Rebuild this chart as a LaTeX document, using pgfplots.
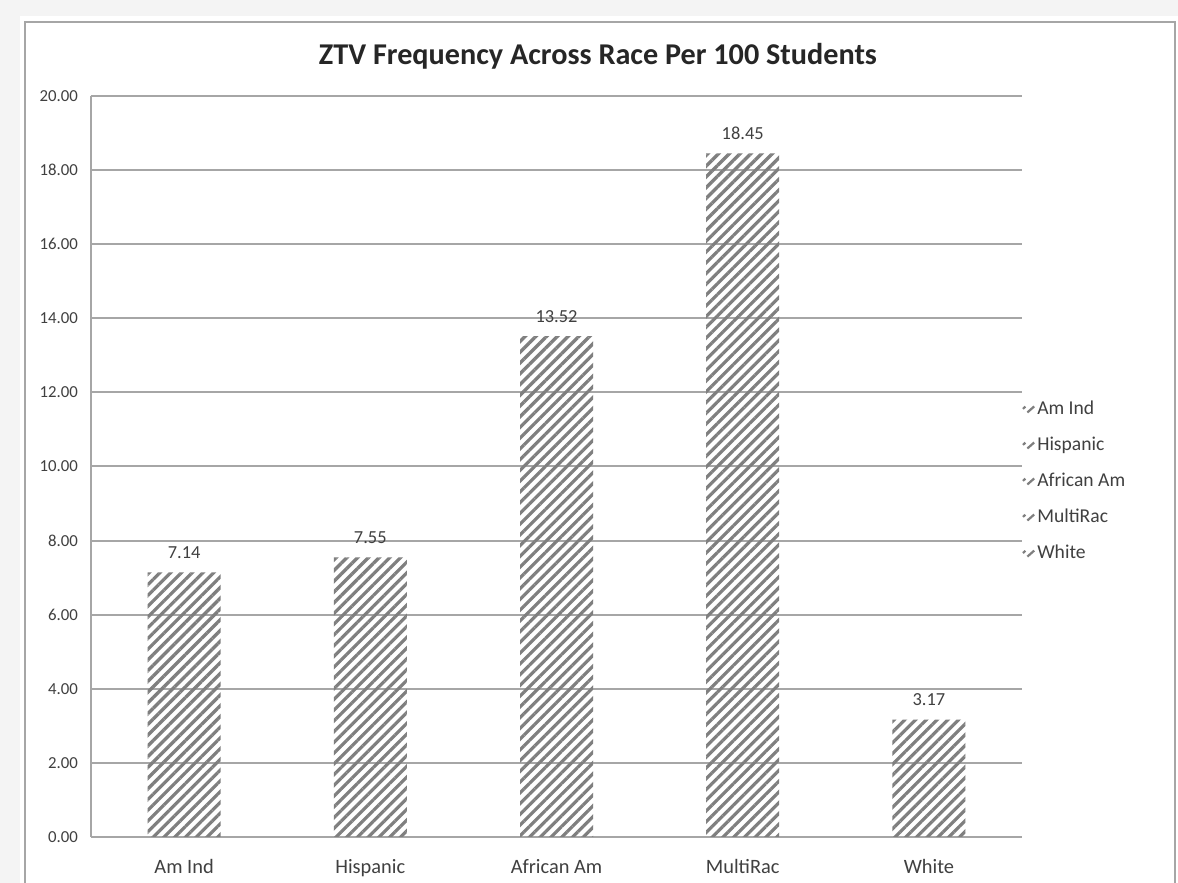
\documentclass[border=0pt]{standalone}
\usepackage{pgfplots}
\pgfplotsset{compat=1.18}
\usepackage{fontspec}
\setmainfont{Carlito}
\usetikzlibrary{patterns.meta}
\definecolor{bggray}{HTML}{F4F4F4}
\definecolor{gridgray}{HTML}{A6A6A6}
\definecolor{hatch}{HTML}{7F7F7F}
\definecolor{txt}{HTML}{404040}
\pgfplotsset{hatchlegend/.style={legend image code/.code={
  \draw[draw=hatch,fill=none,line width=1.1pt] (1.6pt,-1.6pt) -- (5pt,1.4pt);
  \draw[draw=hatch,fill=none,line width=1.1pt] (-0.6pt,0.2pt) -- (0.6pt,1.3pt);
  \path[draw=none,fill=none] (-1pt,-2pt) rectangle (5pt,2pt);}}}
\begin{document}
\begin{tikzpicture}[x=1pt,y=1pt]
\useasboundingbox (0,0) rectangle (589,441.5);
\fill[bggray] (0,0) rectangle (589,441.5);
\fill[white] (10,0) rectangle (589,433.5);
\draw[gridgray,line width=1pt] (12.5,-2) -- (12.5,430.5) -- (587.5,430.5) -- (587.5,-2);
\node[font=\bfseries\fontsize{15.1}{17}\selectfont,text=black!85] at (299,413.5) {ZTV Frequency Across Race Per 100 Students};
\begin{axis}[
  at={(45.5pt,23pt)}, anchor=south west,
  scale only axis, width=465.5pt, height=370.5pt,
  xmin=-0.5, xmax=4.5, ymin=0, ymax=20,
  xtick={0,1,2,3,4},
  xticklabels={Am Ind,Hispanic,African Am,MultiRac,White},
  ytick={0,2,...,20},
  /pgf/number format/fixed, /pgf/number format/zerofill, /pgf/number format/precision=2,
  /pgf/number format/assume math mode=true,
  yticklabel style={font=\fontsize{8.4}{10}\selectfont,text=txt,xshift=-3pt},
  xticklabel style={font=\fontsize{10.2}{12}\selectfont,text=txt,yshift=-7.5pt},
  major tick length=0pt,
  axis x line*=bottom, axis y line*=left,
  axis line style={gridgray,line width=1pt,-},
  ymajorgrids, grid style={gridgray,line width=1pt},
  legend style={at={(0.993,0.480)},anchor=west,draw=none,fill=none,
    font=\fontsize{9.8}{11}\selectfont,text=txt,row sep=7.75pt,
    nodes={inner sep=1pt}},
  legend cell align=left,
]
\addplot[ybar, bar width=36.5pt, draw=none,
  pattern={Lines[angle=45,distance=3.8pt,line width=1.6pt]}, pattern color=hatch,
  nodes near coords={\pgfmathprintnumber{\pgfplotspointmeta}},
  every node near coord/.append style={font=\fontsize{9.2}{11}\selectfont,text=txt,anchor=base,inner sep=0pt,yshift=7pt},
  forget plot]
coordinates {(0,7.14) (1,7.55) (2,13.52) (3,18.45) (4,3.17)};
\addlegendimage{hatchlegend}
\addlegendentry{Am Ind}
\addlegendimage{hatchlegend}
\addlegendentry{Hispanic}
\addlegendimage{hatchlegend}
\addlegendentry{African Am}
\addlegendimage{hatchlegend}
\addlegendentry{MultiRac}
\addlegendimage{hatchlegend}
\addlegendentry{White}
\end{axis}
\end{tikzpicture}
\end{document}
